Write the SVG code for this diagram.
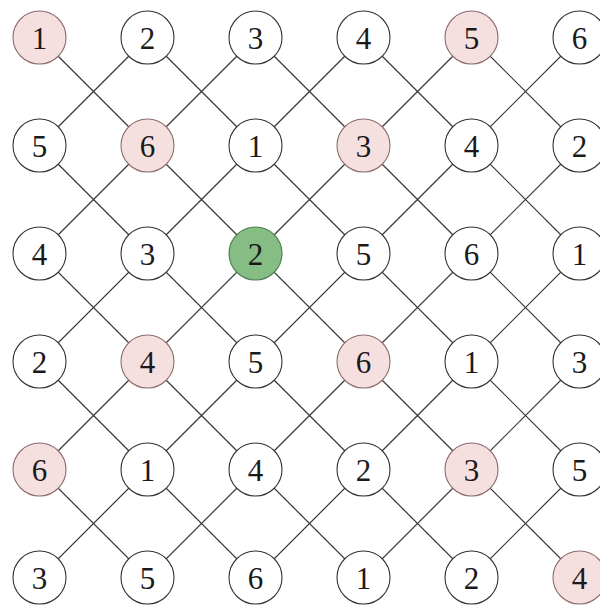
<svg xmlns="http://www.w3.org/2000/svg" width="600" height="605" viewBox="0 0 600 605">
<style>
  .edge { stroke: #3a3a3a; stroke-width: 1.2; fill: none; }
  .n circle { fill: #ffffff; stroke: #333333; stroke-width: 1.1; }
  .n.hl circle { fill: #f6dfdf; stroke: #8a6d6d; }
  .n.gr circle { fill: #85bd85; stroke: #4f7d4f; }
  .n text { font-family: "Liberation Serif", "DejaVu Serif", serif; font-size: 31px; fill: #1a1a1a; text-anchor: middle; }
</style>
<rect width="600" height="605" fill="#ffffff"/>
<g id="connectors">
  <!-- down-right diagonals -->
  <line class="edge" x1="39.5" y1="37.5" x2="147.5" y2="145.5"/>
  <line class="edge" x1="147.5" y1="37.5" x2="255.5" y2="145.5"/>
  <line class="edge" x1="255.5" y1="37.5" x2="363.5" y2="145.5"/>
  <line class="edge" x1="363.5" y1="37.5" x2="471.5" y2="145.5"/>
  <line class="edge" x1="471.5" y1="37.5" x2="579.5" y2="145.5"/>
  <line class="edge" x1="39.5" y1="145.5" x2="147.5" y2="253.5"/>
  <line class="edge" x1="147.5" y1="145.5" x2="255.5" y2="253.5"/>
  <line class="edge" x1="255.5" y1="145.5" x2="363.5" y2="253.5"/>
  <line class="edge" x1="363.5" y1="145.5" x2="471.5" y2="253.5"/>
  <line class="edge" x1="471.5" y1="145.5" x2="579.5" y2="253.5"/>
  <line class="edge" x1="39.5" y1="253.5" x2="147.5" y2="361.5"/>
  <line class="edge" x1="147.5" y1="253.5" x2="255.5" y2="361.5"/>
  <line class="edge" x1="255.5" y1="253.5" x2="363.5" y2="361.5"/>
  <line class="edge" x1="363.5" y1="253.5" x2="471.5" y2="361.5"/>
  <line class="edge" x1="471.5" y1="253.5" x2="579.5" y2="361.5"/>
  <line class="edge" x1="39.5" y1="361.5" x2="147.5" y2="469.5"/>
  <line class="edge" x1="147.5" y1="361.5" x2="255.5" y2="469.5"/>
  <line class="edge" x1="255.5" y1="361.5" x2="363.5" y2="469.5"/>
  <line class="edge" x1="363.5" y1="361.5" x2="471.5" y2="469.5"/>
  <line class="edge" x1="471.5" y1="361.5" x2="579.5" y2="469.5"/>
  <line class="edge" x1="39.5" y1="469.5" x2="147.5" y2="577.5"/>
  <line class="edge" x1="147.5" y1="469.5" x2="255.5" y2="577.5"/>
  <line class="edge" x1="255.5" y1="469.5" x2="363.5" y2="577.5"/>
  <line class="edge" x1="363.5" y1="469.5" x2="471.5" y2="577.5"/>
  <line class="edge" x1="471.5" y1="469.5" x2="579.5" y2="577.5"/>
  <!-- up-right diagonals -->
  <line class="edge" x1="39.5" y1="145.5" x2="147.5" y2="37.5"/>
  <line class="edge" x1="147.5" y1="145.5" x2="255.5" y2="37.5"/>
  <line class="edge" x1="255.5" y1="145.5" x2="363.5" y2="37.5"/>
  <line class="edge" x1="363.5" y1="145.5" x2="471.5" y2="37.5"/>
  <line class="edge" x1="471.5" y1="145.5" x2="579.5" y2="37.5"/>
  <line class="edge" x1="39.5" y1="253.5" x2="147.5" y2="145.5"/>
  <line class="edge" x1="147.5" y1="253.5" x2="255.5" y2="145.5"/>
  <line class="edge" x1="255.5" y1="253.5" x2="363.5" y2="145.5"/>
  <line class="edge" x1="363.5" y1="253.5" x2="471.5" y2="145.5"/>
  <line class="edge" x1="471.5" y1="253.5" x2="579.5" y2="145.5"/>
  <line class="edge" x1="39.5" y1="361.5" x2="147.5" y2="253.5"/>
  <line class="edge" x1="147.5" y1="361.5" x2="255.5" y2="253.5"/>
  <line class="edge" x1="255.5" y1="361.5" x2="363.5" y2="253.5"/>
  <line class="edge" x1="363.5" y1="361.5" x2="471.5" y2="253.5"/>
  <line class="edge" x1="471.5" y1="361.5" x2="579.5" y2="253.5"/>
  <line class="edge" x1="39.5" y1="469.5" x2="147.5" y2="361.5"/>
  <line class="edge" x1="147.5" y1="469.5" x2="255.5" y2="361.5"/>
  <line class="edge" x1="255.5" y1="469.5" x2="363.5" y2="361.5"/>
  <line class="edge" x1="363.5" y1="469.5" x2="471.5" y2="361.5"/>
  <line class="edge" x1="471.5" y1="469.5" x2="579.5" y2="361.5"/>
  <line class="edge" x1="39.5" y1="577.5" x2="147.5" y2="469.5"/>
  <line class="edge" x1="147.5" y1="577.5" x2="255.5" y2="469.5"/>
  <line class="edge" x1="255.5" y1="577.5" x2="363.5" y2="469.5"/>
  <line class="edge" x1="363.5" y1="577.5" x2="471.5" y2="469.5"/>
  <line class="edge" x1="471.5" y1="577.5" x2="579.5" y2="469.5"/>
</g>
<g id="nodes">
  <g id="n00" class="n hl"><circle cx="39.5" cy="37.5" r="26.5"/><text x="39.5" y="49">1</text></g>
  <g id="n01" class="n"><circle cx="147.5" cy="37.5" r="26.5"/><text x="147.5" y="49">2</text></g>
  <g id="n02" class="n"><circle cx="255.5" cy="37.5" r="26.5"/><text x="255.5" y="49">3</text></g>
  <g id="n03" class="n"><circle cx="363.5" cy="37.5" r="26.5"/><text x="363.5" y="49">4</text></g>
  <g id="n04" class="n hl"><circle cx="471.5" cy="37.5" r="26.5"/><text x="471.5" y="49">5</text></g>
  <g id="n05" class="n"><circle cx="579.5" cy="37.5" r="26.5"/><text x="579.5" y="49">6</text></g>

  <g id="n10" class="n"><circle cx="39.5" cy="145.5" r="26.5"/><text x="39.5" y="157">5</text></g>
  <g id="n11" class="n hl"><circle cx="147.5" cy="145.5" r="26.5"/><text x="147.5" y="157">6</text></g>
  <g id="n12" class="n"><circle cx="255.5" cy="145.5" r="26.5"/><text x="255.5" y="157">1</text></g>
  <g id="n13" class="n hl"><circle cx="363.5" cy="145.5" r="26.5"/><text x="363.5" y="157">3</text></g>
  <g id="n14" class="n"><circle cx="471.5" cy="145.5" r="26.5"/><text x="471.5" y="157">4</text></g>
  <g id="n15" class="n"><circle cx="579.5" cy="145.5" r="26.5"/><text x="579.5" y="157">2</text></g>

  <g id="n20" class="n"><circle cx="39.5" cy="253.5" r="26.5"/><text x="39.5" y="265">4</text></g>
  <g id="n21" class="n"><circle cx="147.5" cy="253.5" r="26.5"/><text x="147.5" y="265">3</text></g>
  <g id="n22" class="n gr"><circle cx="255.5" cy="253.5" r="26.5"/><text x="255.5" y="265">2</text></g>
  <g id="n23" class="n"><circle cx="363.5" cy="253.5" r="26.5"/><text x="363.5" y="265">5</text></g>
  <g id="n24" class="n"><circle cx="471.5" cy="253.5" r="26.5"/><text x="471.5" y="265">6</text></g>
  <g id="n25" class="n"><circle cx="579.5" cy="253.5" r="26.5"/><text x="579.5" y="265">1</text></g>

  <g id="n30" class="n"><circle cx="39.5" cy="361.5" r="26.5"/><text x="39.5" y="373">2</text></g>
  <g id="n31" class="n hl"><circle cx="147.5" cy="361.5" r="26.5"/><text x="147.5" y="373">4</text></g>
  <g id="n32" class="n"><circle cx="255.5" cy="361.5" r="26.5"/><text x="255.5" y="373">5</text></g>
  <g id="n33" class="n hl"><circle cx="363.5" cy="361.5" r="26.5"/><text x="363.5" y="373">6</text></g>
  <g id="n34" class="n"><circle cx="471.5" cy="361.5" r="26.5"/><text x="471.5" y="373">1</text></g>
  <g id="n35" class="n"><circle cx="579.5" cy="361.5" r="26.5"/><text x="579.5" y="373">3</text></g>

  <g id="n40" class="n hl"><circle cx="39.5" cy="469.5" r="26.5"/><text x="39.5" y="481">6</text></g>
  <g id="n41" class="n"><circle cx="147.5" cy="469.5" r="26.5"/><text x="147.5" y="481">1</text></g>
  <g id="n42" class="n"><circle cx="255.5" cy="469.5" r="26.5"/><text x="255.5" y="481">4</text></g>
  <g id="n43" class="n"><circle cx="363.5" cy="469.5" r="26.5"/><text x="363.5" y="481">2</text></g>
  <g id="n44" class="n hl"><circle cx="471.5" cy="469.5" r="26.5"/><text x="471.5" y="481">3</text></g>
  <g id="n45" class="n"><circle cx="579.5" cy="469.5" r="26.5"/><text x="579.5" y="481">5</text></g>

  <g id="n50" class="n"><circle cx="39.5" cy="577.5" r="26.5"/><text x="39.5" y="589">3</text></g>
  <g id="n51" class="n"><circle cx="147.5" cy="577.5" r="26.5"/><text x="147.5" y="589">5</text></g>
  <g id="n52" class="n"><circle cx="255.5" cy="577.5" r="26.5"/><text x="255.5" y="589">6</text></g>
  <g id="n53" class="n"><circle cx="363.5" cy="577.5" r="26.5"/><text x="363.5" y="589">1</text></g>
  <g id="n54" class="n"><circle cx="471.5" cy="577.5" r="26.5"/><text x="471.5" y="589">2</text></g>
  <g id="n55" class="n hl"><circle cx="579.5" cy="577.5" r="26.5"/><text x="579.5" y="589">4</text></g>
</g>
</svg>
